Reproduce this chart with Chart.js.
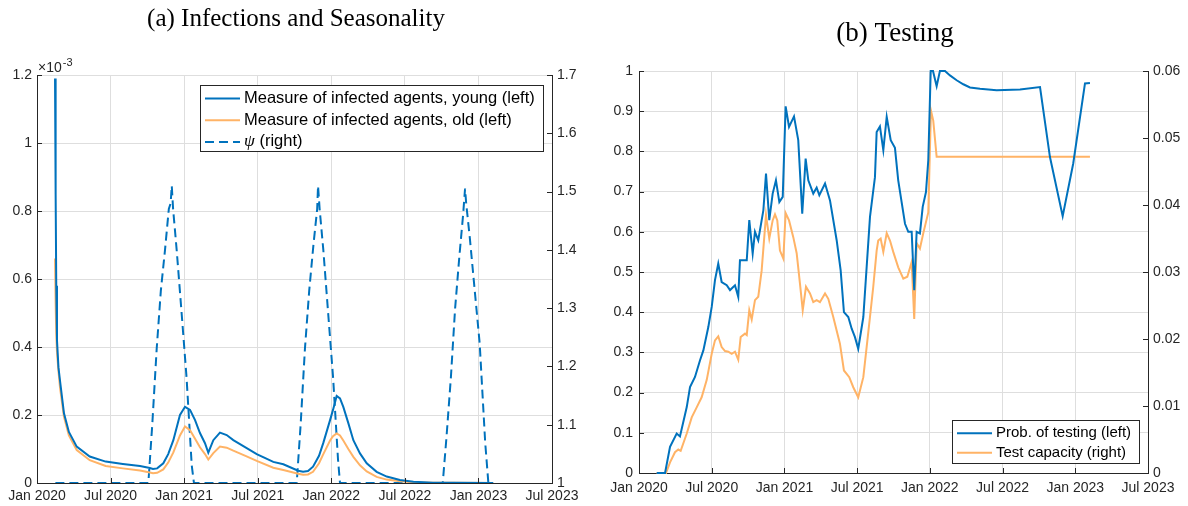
<!DOCTYPE html>
<html>
<head>
<meta charset="utf-8">
<script src="https://cdn.jsdelivr.net/npm/chart.js@4.4.0/dist/chart.umd.min.js"></script>
<style>
html, body { margin: 0; padding: 0; background: #fff; }
#wrapA { position: absolute; left: 0; top: 0; width: 594px; height: 506px; }
#wrapB { position: absolute; left: 594px; top: 0; width: 594px; height: 506px; }
</style>
</head>
<body>
<div id="wrapA"><canvas id="infections"></canvas></div>
<div id="wrapB"><canvas id="testing"></canvas></div>
<script>
// x values are months since Jan 2020
var xTickMonths = [0, 6, 12, 18, 24, 30, 36, 42];

// (a) infections (x10^-3) and seasonality
var infMonths = [1.47, 1.52, 1.57, 1.63, 1.75, 1.88, 2.2, 2.6, 3.24, 4.3, 5.6, 7.0, 8.4, 9.2, 9.46, 9.8,
  10.3, 10.7, 11.12, 11.66, 12.07, 12.48, 12.89, 13.29, 13.7, 13.97, 14.38, 14.92, 15.47, 16.01, 17.0,
  17.92, 19.27, 20.09, 21.3, 21.7, 22.1, 22.51, 23.0, 23.35, 23.9, 24.14, 24.44, 24.71, 24.98, 25.39,
  25.8, 26.34, 26.89, 27.7, 28.52, 29.6, 30.7, 32.3, 34.0, 37.2];
var youngInf = [1.19, 0.85, 0.58, 0.42, 0.34, 0.30, 0.205, 0.15, 0.107, 0.078, 0.063, 0.056, 0.050, 0.044, 0.041, 0.043,
  0.058, 0.085, 0.126, 0.200, 0.224, 0.215, 0.185, 0.147, 0.117, 0.089, 0.126, 0.148, 0.141, 0.126, 0.105,
  0.085, 0.062, 0.055, 0.036, 0.033, 0.035, 0.048, 0.080, 0.118, 0.185, 0.215, 0.256, 0.249, 0.224, 0.176,
  0.126, 0.087, 0.058, 0.033, 0.019, 0.009, 0.004, 0.001, 0.0005, 0];
var oldInf = [0.66, 0.53, 0.44, 0.385, 0.33, 0.28, 0.195, 0.14, 0.097, 0.067, 0.050, 0.043, 0.037, 0.031, 0.029, 0.030,
  0.040, 0.060, 0.090, 0.140, 0.166, 0.155, 0.130, 0.105, 0.085, 0.069, 0.088, 0.107, 0.104, 0.095, 0.080,
  0.065, 0.045, 0.038, 0.027, 0.024, 0.025, 0.033, 0.058, 0.085, 0.125, 0.138, 0.146, 0.140, 0.125, 0.100,
  0.077, 0.052, 0.034, 0.018, 0.010, 0.005, 0.002, 0.001, 0.0005, 0];
var psiMonths = [1.5, 9.08, 9.4, 9.76, 10.1, 10.44, 10.75, 10.9, 10.99, 11.1, 11.39, 11.8, 12.2, 12.62, 12.8,
  21.18, 21.5, 21.85, 22.2, 22.55, 22.85, 22.92, 23.05, 23.35, 23.75, 24.15, 24.55, 24.71,
  33.09, 33.4, 33.75, 34.1, 34.45, 34.75, 34.91, 35.0, 35.3, 35.7, 36.1, 36.55, 36.81, 37.2];
var psi = [1, 1, 1.10, 1.23, 1.33, 1.40, 1.47, 1.48, 1.51, 1.47, 1.40, 1.29, 1.18, 1.03, 1,
  1, 1.10, 1.23, 1.33, 1.41, 1.47, 1.51, 1.47, 1.40, 1.29, 1.18, 1.04, 1,
  1, 1.08, 1.18, 1.30, 1.39, 1.46, 1.505, 1.48, 1.42, 1.33, 1.24, 1.07, 1, 1];

// (b) testing
var probMonths = [1.46, 2.15, 2.56, 3.11, 3.38, 3.94, 4.21, 4.62, 5.03, 5.31, 5.72, 6.0, 6.27, 6.54, 6.82, 7.24,
  7.51, 7.92, 8.19, 8.33, 8.89, 9.1, 9.38, 9.57, 9.84, 10.26, 10.48, 10.75, 11.03, 11.3, 11.58, 11.86,
  12.1, 12.38, 12.79, 13.14, 13.47, 13.75, 13.97, 14.38, 14.66, 14.88, 15.35, 15.76, 16.31, 16.64, 16.91,
  17.27, 17.55, 17.82, 18.09, 18.51, 19.06, 19.47, 19.61, 19.88, 20.16, 20.44, 20.77, 21.12, 21.39, 21.95,
  22.22, 22.5, 22.71, 22.91, 23.18, 23.41, 23.68, 23.87, 24.07, 24.26, 24.56, 24.83, 25.25, 25.66, 26.21,
  26.76, 27.31, 28.14, 29.51, 31.44, 33.09, 33.91, 34.96, 35.83, 36.8, 37.21];
var probTesting = [0, 0, 0.065, 0.098, 0.091, 0.164, 0.214, 0.239, 0.28, 0.305, 0.363, 0.413, 0.48, 0.521, 0.475, 0.467,
  0.455, 0.467, 0.438, 0.529, 0.529, 0.629, 0.546, 0.6, 0.579, 0.653, 0.745, 0.629, 0.695, 0.728, 0.674, 0.687,
  0.912, 0.861, 0.887, 0.828, 0.645, 0.782, 0.728, 0.695, 0.71, 0.691, 0.72, 0.678, 0.579, 0.504, 0.40,
  0.388, 0.359, 0.338, 0.309, 0.388, 0.637, 0.736, 0.848, 0.862, 0.803, 0.886, 0.828, 0.809, 0.728, 0.62,
  0.6, 0.6, 0.455, 0.6, 0.596, 0.662, 0.699, 0.778, 1.0, 1.0, 0.962, 1.0, 1.0, 0.989, 0.977,
  0.967, 0.959, 0.956, 0.952, 0.954, 0.96, 0.786, 0.639, 0.77, 0.969, 0.97];
var capMonths = [1.46, 2.23, 2.56, 2.97, 3.24, 3.44, 3.94, 4.35, 4.76, 5.17, 5.59, 6.0, 6.27, 6.54, 6.82, 7.1,
  7.37, 7.65, 7.92, 8.19, 8.39, 8.75, 8.89, 9.1, 9.3, 9.57, 9.84, 10.12, 10.48, 10.75, 11.03, 11.22,
  11.41, 11.63, 11.91, 12.1, 12.38, 12.73, 13.01, 13.28, 13.51, 13.78, 14.11, 14.38, 14.66, 14.93, 15.35,
  15.62, 16.03, 16.58, 16.91, 17.35, 17.68, 18.09, 18.51, 19.06, 19.33, 19.61, 19.74, 19.94, 20.16, 20.44,
  20.71, 20.98, 21.39, 21.81, 22.14, 22.5, 22.71, 22.91, 23.18, 23.46, 23.87, 24.09, 24.28, 24.56, 37.21];
var testCapacity = [0, 0, 0.0016, 0.0031, 0.0035, 0.0033, 0.0059, 0.0083, 0.0098, 0.0113, 0.0139, 0.0178, 0.0198, 0.0204, 0.0188, 0.0182,
  0.0181, 0.0178, 0.0181, 0.0169, 0.0203, 0.0208, 0.0206, 0.0243, 0.0229, 0.0258, 0.0263, 0.0302, 0.0385, 0.035, 0.0377, 0.0386,
  0.0377, 0.0332, 0.032, 0.0388, 0.0377, 0.0352, 0.0328, 0.0283, 0.0243, 0.0278, 0.0268, 0.0255, 0.0258, 0.0255, 0.0268,
  0.026, 0.0233, 0.0193, 0.0153, 0.0143, 0.0128, 0.0113, 0.0143, 0.0233, 0.0278, 0.0332, 0.0347, 0.035, 0.033, 0.0358,
  0.0347, 0.033, 0.0307, 0.029, 0.0293, 0.0315, 0.023, 0.0343, 0.0335, 0.0358, 0.0389, 0.0541, 0.0526, 0.0472, 0.0472];

var blue = '#0072BD';
var orange = '#FFB366';
var axisColor = '#262626';
var gridColor = '#dedede';
var tickFont = { family: 'Liberation Sans, Arial, sans-serif', size: 14 };

function pts(xs, ys) {
  return xs.map(function (x, i) { return { x: x, y: ys[i] }; });
}

function monthLabel(v) {
  return (v % 12 === 0 ? 'Jan ' : 'Jul ') + (2020 + Math.floor(v / 12));
}

// 1, 1.1, 0.05 ... no trailing zeros like MATLAB
function numLabel(v) {
  return String(+v.toFixed(4));
}

function fixW(w) { return function (s) { s.width = w; }; }
function fixH(h) { return function (s) { s.height = h; }; }

// MATLAB style inward tick marks
var innerTicks = {
  id: 'innerTicks',
  afterDraw: function (chart) {
    var c = chart.ctx, a = chart.chartArea;
    c.save();
    c.strokeStyle = axisColor;
    c.lineWidth = 1;
    Object.keys(chart.scales).forEach(function (k) {
      var s = chart.scales[k];
      s.ticks.forEach(function (t) {
        var p = Math.round(s.getPixelForValue(t.value)) + 0.5;
        c.beginPath();
        if (s.axis === 'x') { c.moveTo(p, a.bottom); c.lineTo(p, a.bottom - 5); }
        else if (s.position === 'left') { c.moveTo(a.left, p); c.lineTo(a.left + 5, p); }
        else { c.moveTo(a.right, p); c.lineTo(a.right - 5, p); }
        c.stroke();
      });
    });
    c.restore();
  }
};

function titlePlugin(text, cx, baseY, size) {
  return {
    id: 'serifTitle',
    afterDraw: function (chart) {
      var c = chart.ctx;
      c.save();
      c.fillStyle = '#000';
      c.font = size + 'px "Liberation Serif", "Times New Roman", serif';
      c.textAlign = 'center';
      c.textBaseline = 'alphabetic';
      c.fillText(text, cx, baseY);
      c.restore();
    }
  };
}

function boxLegend(box, rows) {
  return {
    id: 'boxLegend',
    afterDraw: function (chart) {
      var c = chart.ctx;
      c.save();
      c.fillStyle = '#fff';
      c.fillRect(box.x, box.y, box.w, box.h);
      c.strokeStyle = axisColor;
      c.lineWidth = 1;
      c.strokeRect(box.x + 0.5, box.y + 0.5, box.w, box.h);
      rows.forEach(function (r, i) {
        var y = box.y + box.rowTop + i * box.rowGap;
        c.beginPath();
        c.setLineDash(r.dash || []);
        c.strokeStyle = r.color;
        c.lineWidth = 2;
        c.moveTo(box.x + box.lineFrom, y);
        c.lineTo(box.x + box.lineTo, y);
        c.stroke();
        c.setLineDash([]);
        c.fillStyle = '#000';
        c.textBaseline = 'middle';
        c.textAlign = 'left';
        var tx = box.x + box.textX;
        if (r.greek) {
          c.font = 'italic ' + (box.font + 1) + 'px "Liberation Serif", serif';
          c.fillText(r.greek, tx, y);
          tx += c.measureText(r.greek).width;
        }
        c.font = box.font + 'px "Liberation Sans", Arial, sans-serif';
        c.fillText(r.label, tx, y);
      });
      c.restore();
    }
  };
}

var expLabel = {
  id: 'expLabel',
  afterDraw: function (chart) {
    var c = chart.ctx;
    c.save();
    c.fillStyle = axisColor;
    c.textBaseline = 'alphabetic';
    c.font = '14px "Liberation Sans", Arial, sans-serif';
    c.fillText('\u00d710', 38, 72);
    var w = c.measureText('\u00d710').width;
    c.font = '11px "Liberation Sans", Arial, sans-serif';
    c.fillText('-3', 38 + w + 1, 66);
    c.restore();
  }
};

function xScale(h, pad) {
  return {
    type: 'linear', min: 0, max: 42,
    afterBuildTicks: function (s) { s.ticks = xTickMonths.map(function (v) { return { value: v }; }); },
    ticks: { callback: monthLabel, maxRotation: 0, autoSkip: false, padding: pad, font: tickFont, color: axisColor },
    grid: { color: gridColor, drawTicks: false },
    border: { color: axisColor, width: 1 },
    afterFit: fixH(h)
  };
}

function yScale(pos, min, max, step, w, pad, grid) {
  return {
    type: 'linear', position: pos, min: min, max: max,
    ticks: { stepSize: step, padding: pad, font: tickFont, color: axisColor, callback: numLabel },
    grid: grid ? { color: gridColor, drawTicks: false } : { drawOnChartArea: false, drawTicks: false },
    border: { color: axisColor, width: 1 },
    afterFit: fixW(w)
  };
}

new Chart(document.getElementById('infections'), {
  type: 'line',
  data: {
    datasets: [
      { label: 'young', data: pts(infMonths, youngInf), borderColor: blue, borderWidth: 2, yAxisID: 'y' },
      { label: 'old', data: pts(infMonths, oldInf), borderColor: orange, borderWidth: 2, yAxisID: 'y' },
      { label: 'psi', data: pts(psiMonths, psi), borderColor: blue, borderWidth: 2, borderDash: [9, 5], yAxisID: 'y2' }
    ]
  },
  options: {
    responsive: true,
    maintainAspectRatio: false,
    animation: false,
    layout: { padding: { top: 75, left: 0, right: 0, bottom: 0 } },
    elements: { point: { radius: 0 }, line: { tension: 0 } },
    plugins: { legend: { display: false }, tooltip: { enabled: false } },
    scales: {
      x: xScale(23, 5),
      y: yScale('left', 0, 1.2, 0.2, 37, 5, true),
      y2: yScale('right', 1, 1.7, 0.1, 42, 5, false)
    }
  },
  plugins: [innerTicks, expLabel, titlePlugin('(a) Infections and Seasonality', 296, 26, 25),
    boxLegend({ x: 200, y: 85, w: 343, h: 66, rowTop: 13.5, rowGap: 21.7, lineFrom: 5, lineTo: 40, textX: 44, font: 16.5 }, [
      { label: 'Measure of infected agents, young (left)', color: blue },
      { label: 'Measure of infected agents, old (left)', color: orange },
      { label: ' (right)', greek: '\u03c8', color: blue, dash: [9, 5] }
    ])]
});

new Chart(document.getElementById('testing'), {
  type: 'line',
  data: {
    datasets: [
      { label: 'prob', data: pts(probMonths, probTesting), borderColor: blue, borderWidth: 2, yAxisID: 'y', clip: 4 },
      { label: 'cap', data: pts(capMonths, testCapacity), borderColor: orange, borderWidth: 2, yAxisID: 'y2', clip: 4 }
    ]
  },
  options: {
    responsive: true,
    maintainAspectRatio: false,
    animation: false,
    layout: { padding: { top: 71, left: 0, right: 0, bottom: 0 } },
    elements: { point: { radius: 0 }, line: { tension: 0 } },
    plugins: { legend: { display: false }, tooltip: { enabled: false } },
    scales: {
      x: xScale(33, 7),
      y: yScale('left', 0, 1, 0.1, 45, 6, true),
      y2: yScale('right', 0, 0.06, 0.01, 40, 5, false)
    }
  },
  plugins: [innerTicks, titlePlugin('(b) Testing', 301, 41, 27),
    boxLegend({ x: 358, y: 420, w: 187, h: 43, rowTop: 13.3, rowGap: 19.4, lineFrom: 5, lineTo: 40, textX: 44, font: 15 }, [
      { label: 'Prob. of testing (left)', color: blue },
      { label: 'Test capacity (right)', color: orange }
    ])]
});
</script>
</body>
</html>
